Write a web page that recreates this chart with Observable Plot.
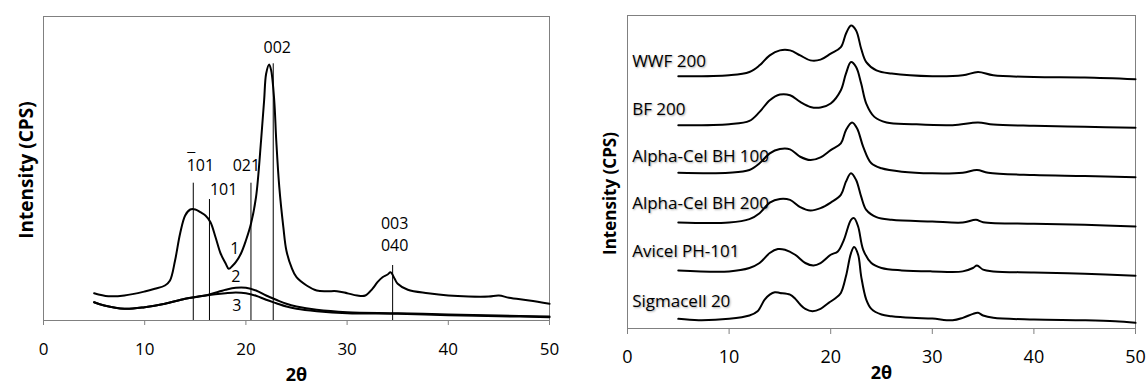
<!DOCTYPE html>
<html><head><meta charset="utf-8">
<script src="https://cdn.jsdelivr.net/npm/d3@7"></script>
<script src="https://cdn.jsdelivr.net/npm/@observablehq/plot@0.6"></script>
<style>body{margin:0;background:#fff;} #wrap{display:flex;width:1146px;height:385px;overflow:hidden;}</style>
</head><body><div id="wrap"></div>
<script>
// ---------- Left panel data ----------
const xTicks = [0, 10, 20, 30, 40, 50];
const c1X = [5,6.4,8,10,11,12,12.5,13,13.5,14,14.5,15,15.5,16,16.5,17,17.5,18,18.3,18.7,19,19.5,20,20.5,21,21.5,21.8,22,22.3,22.5,22.8,23,23.3,23.7,24,24.5,25,26,27,28,29,30,31,31.8,32.5,33,33.5,34,34.3,34.7,35,36,38,40,42,44,45,46,48,50];
const c1Y = [27.3,24.3,25,29,31.7,35,40,60,87,105,111,111,108.3,105,98.3,83.3,67,57,51.7,55,58.3,66.7,80,96.7,123.3,180,220,246.7,256,250,220,180,133.3,93.3,70,53.3,43.3,35,30,29.3,29.3,27.3,25,25,31.7,38.3,43.3,46,48.3,41.7,36.7,30.7,27.3,25,24,24,25,22.7,20,16.7];
const c2X = [5,6,8,10,12,14,16,18,19,20,21,22,23,24,25,27,30,35,40,45,50];
const c2Y = [18.3,15,11.7,13.3,16.7,21.7,25,30.7,32.7,32.7,30,25,20.7,16.7,14,10.7,8.3,7.3,6,5,4];
const c3X = [5,6,8,10,12,14,16,18,19,20,21,22,23,24,25,27,30,35,40,45,50];
const c3Y = [18.3,15,11.7,13.3,16.7,21.7,25,27.3,28,27.3,24.7,20.7,17.3,14,11.7,9.3,7.3,6.7,5.3,4.3,3.3];
const peakX = [14.8, 16.4, 20.5, 22.7, 34.5];
const peakTop = [137.3, 121, 137.3, 256.7, 55];
const peakLabels = ["101", "101", "021", "002", "003", "040", "1", "2", "3"];
const peakLabelX = [15.5, 17.8, 20.05, 23.1, 34.7, 34.7, 18.9, 19.0, 19.1];
const peakLabelY = [154.3, 131, 154.3, 272.7, 96.7, 74.3, 71.7, 44, 15];
const barLabelIndex = 0; // the first "101" is written with a bar over its first 1

// ---------- Right panel data ----------
const names = ["WWF 200", "BF 200", "Alpha-Cel BH 100", "Alpha-Cel BH 200", "Avicel PH-101", "Sigmacell 20"];
const nameY = [268, 219.7, 172.3, 125, 76.7, 27.3];
const sigX = [5,7,10,12,12.8,13.5,14,14.5,15,16,16.5,17,17.5,18.2,19,19.8,20.5,21,21.5,22,22.3,22.7,23,23.5,24,25,26,28,30,32,33,34,34.5,35,36,40,45,48,50];
const sigY = [9.7,8.3,9.7,13,17.3,29,34,36.3,35.7,34,30,24,19.7,17.3,19.7,25.7,30.7,35.7,52.3,75.7,81.7,74,52.3,29,19.7,14,12.3,10.7,10,8.3,10.7,14.7,15.7,13,10.7,9,8.3,7.3,5.7];
const aviX = [5,10,12,13,14,14.8,15.5,16.5,17.5,18.3,19,20,20.7,21.3,22,22.3,22.7,23.2,24,25,27,30,33,34,34.4,35,36,40,45,50];
const aviY = [58.3,57.3,60.7,65.7,75.7,79.7,79,74,65.7,63.3,65.7,74,77.3,89,109,110.7,102.3,79,65.7,60.7,58.3,57.3,57.3,60.7,63.3,59,57.3,56.3,55,53];
const a200X = [5,10,12,13,14,15,16,17,18,19,20,21,21.5,22,22.5,23,23.5,24.5,26,30,33,34.3,35,40,45,50];
const a200Y = [106.3,106.3,109.7,115.7,126.3,130,129,121.7,118.3,120.7,126.3,134,147.3,155.7,149,132.3,119,111.7,109,107.3,106.3,109,106.7,105,104,102.3];
const a100X = [5,10,12,13,14,15,16,17,18,19,20,21,21.5,22.1,22.6,23.2,24,25,27,30,33,34.4,35.5,40,45,50];
const a100Y = [156.3,156.3,159,165.7,175.7,180,179.7,172.3,169,171.7,179,185.7,199,206.7,200.7,182.3,165.7,160.7,157.3,155.7,156.3,159,156.3,154,153,151.7];
const bfX = [5,10,12,13,14,15,16,17,18,19,20,21,21.5,22,22.5,23,23.5,24.3,25.5,28,32,34.5,36,40,45,50];
const bfY = [204,205,208.3,217.3,229,234.7,234,227.3,222.3,221.7,225.7,239,255.7,267.3,262.3,245.7,225.7,212.3,206.7,205,204,206.7,204.7,203.3,202.3,201.3];
const wwfX = [5,10,12,13,14,15,16,17,18,19,20,21,21.5,22,22.5,23,23.5,24.5,26,30,33,34.5,36,40,45,50];
const wwfY = [253,254,257.3,264,274,279,279,274,269,269.7,275.7,282.3,295.7,304,299,280.7,267.3,259,255.7,253,254,257.3,254,252.3,251.7,250];

// ---------- helpers ----------
const rows = (xs, ys, name) => xs.map((x, i) => ({x, y: ys[i], name}));
const font = {fontFamily: "'Open Sans', sans-serif", fontSize: "16px", background: "white", color: "black"};

const leftLines = [...rows(c1X, c1Y, "1"), ...rows(c2X, c2Y, "2"), ...rows(c3X, c3Y, "3")];
const peaks = peakX.map((x, i) => ({x, top: peakTop[i]}));
const pLabels = peakLabels.map((t, i) => ({t, x: peakLabelX[i], y: peakLabelY[i]}));

const left = Plot.plot({
  width: 573, height: 385,
  marginLeft: 43, marginRight: 24, marginTop: 16, marginBottom: 65,
  style: font,
  x: {domain: [0, 50]},
  y: {domain: [0, 304], axis: null},
  marks: [
    Plot.frame({stroke: "#808080"}),
    Plot.axisX({ticks: xTicks, tickSize: 5, tickPadding: 17, stroke: "#808080", fill: "black", fontSize: 17, label: null}),
    Plot.ruleX(peaks, {x: "x", y1: 0, y2: "top", stroke: "black", strokeWidth: 1}),
    Plot.line(leftLines, {x: "x", y: "y", z: "name", stroke: "black", strokeWidth: 2, curve: "catmull-rom"}),
    Plot.text(pLabels, {x: "x", y: "y", text: "t", fontSize: 16, fill: "black"}),
    // bar over the first digit of the (1̄01) label
    Plot.text([pLabels[barLabelIndex]], {x: "x", y: "y", text: () => "\u00AF", dx: -9, dy: -5, fontSize: 16, fill: "black"}),
    Plot.text(["2θ"], {frameAnchor: "bottom", lineAnchor: "middle", textAnchor: "middle", dy: 55, fontWeight: "bold", fontSize: 18, fill: "black"}),
    Plot.text(["Intensity (CPS)"], {frameAnchor: "left", textAnchor: "middle", lineAnchor: "middle", dx: -17, dy: 1.5, rotate: -90, fontWeight: "bold", fontSize: 19, fill: "black"})
  ]
});

const rightLines = [
  ...rows(wwfX, wwfY, names[0]), ...rows(bfX, bfY, names[1]), ...rows(a100X, a100Y, names[2]),
  ...rows(a200X, a200Y, names[3]), ...rows(aviX, aviY, names[4]), ...rows(sigX, sigY, names[5])
];
const nLabels = names.map((t, i) => ({t, y: nameY[i]}));

const right = Plot.plot({
  width: 573, height: 385,
  marginLeft: 54, marginRight: 11, marginTop: 15, marginBottom: 57,
  style: font,
  x: {domain: [0, 50]},
  y: {domain: [0, 314], axis: null},
  marks: [
    Plot.frame({stroke: "#808080"}),
    Plot.axisX({ticks: xTicks, tickSize: 6, tickPadding: 16, stroke: "#808080", fill: "black", fontSize: 18, label: null}),
    Plot.line(rightLines, {x: "x", y: "y", z: "name", stroke: "black", strokeWidth: 2, curve: "catmull-rom"}),
    Plot.text(nLabels, {x: 0.46, y: "y", text: "t", textAnchor: "start", fontSize: 17, fill: "black"}),
    Plot.text(["2θ"], {frameAnchor: "bottom", lineAnchor: "middle", textAnchor: "middle", dy: 45, fontWeight: "bold", fontSize: 18, fill: "black"}),
    Plot.text(["Intensity (CPS)"], {frameAnchor: "left", textAnchor: "middle", lineAnchor: "middle", dx: -17, dy: 21.5, rotate: -90, fontWeight: "bold", fontSize: 17, fill: "black"})
  ]
});

// soft grey shadow on the sample labels, as in the original figure
d3.select(right).selectAll('g[aria-label="text"]').filter((d, i) => i === 0)
  .style("text-shadow", "1px 1px 2px rgba(0,0,0,0.35)");

document.getElementById("wrap").append(left, right);
</script></body></html>
